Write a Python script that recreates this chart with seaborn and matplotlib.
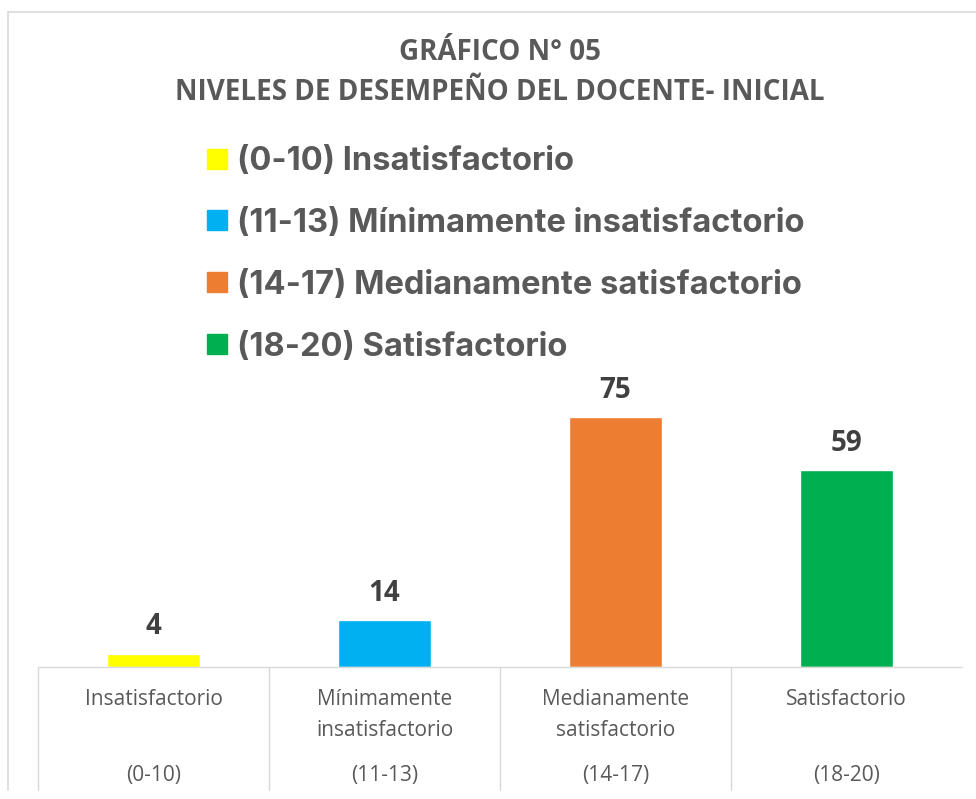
import matplotlib
matplotlib.use("Agg")
import matplotlib.pyplot as plt
from matplotlib.lines import Line2D
import seaborn as sns
import pandas as pd

categories = ["Insatisfactorio", "Mínimamente\ninsatisfactorio", "Medianamente\nsatisfactorio", "Satisfactorio"]
ranges = ["(0-10)", "(11-13)", "(14-17)", "(18-20)"]
legend_labels = ["(0-10) Insatisfactorio", "(11-13) Mínimamente insatisfactorio",
                 "(14-17) Medianamente satisfactorio", "(18-20) Satisfactorio"]
values = [4, 14, 75, 59]
colors = ["#FFFF00", "#00B0F0", "#ED7D31", "#00B050"]
title_lines = ["GRÁFICO N° 05", "NIVELES DE DESEMPEÑO DEL DOCENTE- INICIAL"]

sns.set_theme(style="white")
plt.rcParams['font.family'] = ['Open Sans', 'DejaVu Sans']

W, H = 976, 799
fig = plt.figure(figsize=(W / 100, H / 100), dpi=100)
fig.patch.set_facecolor("white")

def fx(px):
    return px / W

def fy(py):
    return (H - py) / H

ax_top, ax_bot = 367, 667
ax = fig.add_axes([fx(38), fy(ax_bot), fx(962) - fx(38), fy(ax_top) - fy(ax_bot)])

df = pd.DataFrame({"cat": categories, "val": values})
sns.barplot(data=df, x="cat", y="val", hue="cat", palette=colors, legend=False,
            width=0.4, ax=ax, saturation=1)
ax.set_xlim(-0.5, 3.5)
ax.set_ylim(0, (ax_bot - ax_top) / (250 / 75))
ax.set_xlabel("")
ax.set_ylabel("")
ax.set_yticks([])
for s in ax.spines.values():
    s.set_visible(False)

gray = "#595959"
ax.set_xticks(range(len(categories)))
ax.set_xticklabels(categories, fontsize=15, color=gray, linespacing=1.6, va="top")
ax.tick_params(axis="x", length=0, pad=16)

for cont in ax.containers:
    ax.bar_label(cont, fontsize=20, fontweight="bold", color="#404040", padding=9)

for i, r in enumerate(ranges):
    ax.annotate(r, xy=(i, 0), xycoords=("data", "axes fraction"),
                xytext=(0, -108 * 0.72), textcoords="offset points",
                ha="center", va="center", fontsize=15, color=gray)

line_c = "#D9D9D9"
ybot = -(790 - ax_bot) / (ax_bot - ax_top)
ax.plot([-0.5, 3.5], [0, 0], color=line_c, lw=1, transform=ax.get_xaxis_transform(), clip_on=False)
for xv in [-0.5, 0.5, 1.5, 2.5]:
    ax.plot([xv, xv], [0, ybot], color=line_c, lw=1, transform=ax.get_xaxis_transform(), clip_on=False)

# outer chart border
fig.add_artist(Line2D([fx(8), fx(8)], [fy(12), fy(790)], color=line_c, lw=1.2))
fig.add_artist(Line2D([fx(8), 1.0], [fy(12), fy(12)], color=line_c, lw=1.2))

fig.text(fx(500), fy(53), title_lines[0], ha="center", va="center", fontsize=20,
         fontweight="bold", color=gray)
fig.text(fx(500), fy(93), title_lines[1], ha="center", va="center", fontsize=20,
         fontweight="bold", color=gray)

handles = [Line2D([], [], marker="s", linestyle="none", markersize=14,
                  markerfacecolor=c, markeredgecolor=c) for c in colors]
leg = fig.legend(handles, legend_labels, loc="upper left",
                 bbox_to_anchor=(fx(206), fy(146)), frameon=False,
                 borderpad=0, borderaxespad=0, handlelength=0.65, handletextpad=0.3,
                 labelspacing=0.945,
                 prop={"family": ['Inter', 'DejaVu Sans'], "weight": "bold", "size": 23.5})
for t in leg.get_texts():
    t.set_color(gray)

fig.savefig("out.png", dpi=100, facecolor="white")
